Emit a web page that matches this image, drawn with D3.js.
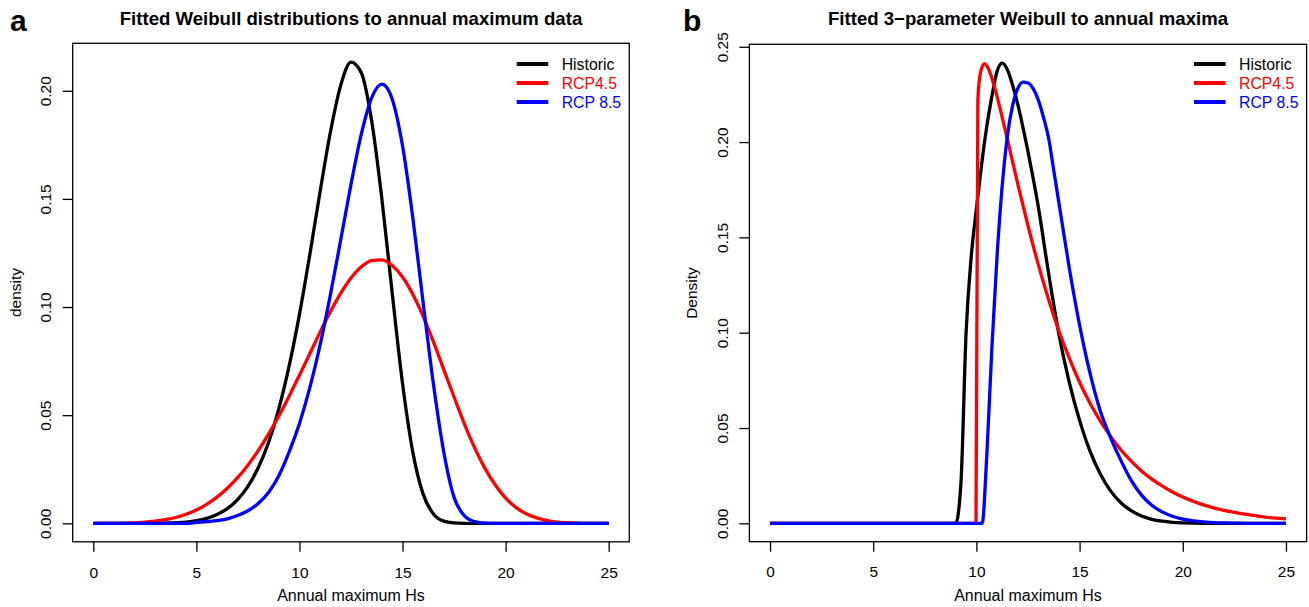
<!DOCTYPE html>
<html>
<head>
<meta charset="utf-8">
<script src="https://d3js.org/d3.v7.min.js"></script>
<style>
body { margin: 0; background: #fff; }
svg text { font-family: "Liberation Sans", Arial, Helvetica, sans-serif; }
</style>
</head>
<body>
<div id="vis"></div>
<script>
const FRAME_WIDTH = 1309;
const FRAME_HEIGHT = 607;

// legend / series labels
const seriesNames = ["Historic", "RCP4.5", "RCP 8.5"];
const seriesColors = ["#000000", "#ff0000", "#0000ff"];

// tick labels
const xTicks = [0, 5, 10, 15, 20, 25];
const leftYTicks = [0, 0.05, 0.10, 0.15, 0.20];
const rightYTicks = [0, 0.05, 0.10, 0.15, 0.20, 0.25];

// panel a: fitted Weibull densities
const leftX = [0, 0.5, 1, 1.5, 2, 2.5, 3, 3.5, 4, 4.5, 5, 5.5, 6, 6.5, 7, 7.5, 8, 8.5, 9, 9.5,
  10, 10.5, 11, 11.5, 12, 12.5, 13, 13.5, 14, 14.5, 15, 15.5, 16, 16.5, 17, 17.5, 18, 18.5, 19, 19.5,
  20, 20.5, 21, 21.5, 22, 22.5, 23, 23.5, 24, 24.5, 25];
const leftHistoric = [0, 0, 0, 0, 0, 0, 0, 0.0001, 0.0003, 0.0006, 0.0012, 0.0023, 0.0041, 0.0068, 0.0110, 0.0171, 0.0257, 0.0374, 0.0530, 0.0728,
  0.0966, 0.1241, 0.1533, 0.1808, 0.2025, 0.2132, 0.2083, 0.1862, 0.1498, 0.1063, 0.0647, 0.0328, 0.0135, 0.0043, 0.0010, 0.0002, 0, 0, 0, 0,
  0, 0, 0, 0, 0, 0, 0, 0, 0, 0, 0];
const leftRcp45 = [0, 0, 0, 0.0001, 0.0002, 0.0005, 0.0010, 0.0017, 0.0027, 0.0042, 0.0062, 0.0088, 0.0121, 0.0162, 0.0211, 0.0269, 0.0336, 0.0412, 0.0496, 0.0588,
  0.0685, 0.0784, 0.0884, 0.0978, 0.1063, 0.1134, 0.1186, 0.1215, 0.1218, 0.1192, 0.1139, 0.1059, 0.0957, 0.0839, 0.0711, 0.0584, 0.0460, 0.0349, 0.0254, 0.0177,
  0.0117, 0.0074, 0.0044, 0.0025, 0.0013, 0.0006, 0.0003, 0.0001, 0, 0, 0];
const leftRcp85 = [0, 0, 0, 0, 0, 0, 0, 0, 0, 0, 0.0004, 0.0008, 0.0012, 0.0021, 0.0036, 0.0058, 0.0092, 0.0143, 0.0220, 0.0330,
  0.0462, 0.0626, 0.0824, 0.1056, 0.1310, 0.1567, 0.1799, 0.1967, 0.2031, 0.1961, 0.1745, 0.1412, 0.1020, 0.0643, 0.0330, 0.0120, 0.0035, 0.0008, 0.0001, 0,
  0, 0, 0, 0, 0, 0, 0, 0, 0, 0, 0];

// panel b: fitted 3-parameter Weibull densities
const rightHistoricX = [0, 9, 9.25, 9.5, 9.75, 10, 10.25, 10.5, 10.75, 11, 11.25, 11.5, 11.75, 12, 12.25, 12.5, 12.75, 13, 13.5, 14,
  14.5, 15, 15.5, 16, 16.5, 17, 17.5, 18, 18.5, 19, 19.5, 20, 21, 25];
const rightHistoric = [0, 0, 0.021, 0.100, 0.140, 0.165, 0.188, 0.208, 0.224, 0.237, 0.2414, 0.238, 0.230, 0.220, 0.208, 0.195, 0.181, 0.166, 0.131, 0.099,
  0.074, 0.054, 0.038, 0.026, 0.017, 0.0108, 0.0066, 0.0038, 0.0021, 0.0011, 0.0005, 0.0002, 0, 0];
const rightRcp45X = [0, 9.98, 10.07, 10.2, 10.4, 10.6, 10.8, 11, 11.5, 12, 12.5, 13, 13.5, 14, 14.5, 15, 15.5, 16, 16.5, 17,
  17.5, 18, 18.5, 19, 19.5, 20, 20.5, 21, 21.5, 22, 22.5, 23, 23.5, 24, 24.5, 25];
const rightRcp45 = [0, 0, 0.222, 0.2366, 0.2411, 0.238, 0.2318, 0.2240, 0.2015, 0.1782, 0.1561, 0.1357, 0.1173, 0.1009, 0.0866, 0.0740, 0.0631, 0.0537, 0.0456, 0.0386,
  0.0326, 0.0275, 0.0232, 0.0196, 0.0164, 0.0138, 0.0116, 0.0097, 0.0081, 0.0068, 0.0057, 0.0048, 0.0040, 0.0033, 0.0027, 0.0023];
const rightRcp85X = [0, 10.28, 10.5, 10.75, 11, 11.25, 11.5, 11.75, 12, 12.25, 12.5, 12.75, 13, 13.25, 13.5, 13.75, 14, 14.5, 15, 15.5,
  16, 16.5, 17, 17.5, 18, 18.5, 19, 19.5, 20, 20.5, 21, 21.5, 22, 22.5, 23, 25];
const rightRcp85 = [0, 0, 0.035, 0.092, 0.140, 0.177, 0.203, 0.219, 0.228, 0.2315, 0.2310, 0.228, 0.222, 0.213, 0.202, 0.185, 0.168, 0.134, 0.104, 0.079,
  0.059, 0.045, 0.033, 0.0225, 0.0148, 0.0095, 0.0060, 0.0037, 0.0022, 0.0013, 0.0008, 0.0004, 0.0002, 0.0001, 0, 0];

const FRAME = d3.select("#vis")
    .append("svg")
    .attr("width", FRAME_WIDTH)
    .attr("height", FRAME_HEIGHT);

function zip(xs, ys) {
    return xs.map((x, i) => ({x: x, y: ys[i]}));
}

function drawPanel(p) {
    // R style: data range padded by 4% on each side
    const X_SCALE = d3.scaleLinear()
        .domain([-1, 26])
        .range([p.left, p.right]);
    const Y_SCALE = d3.scaleLinear()
        .domain(p.yDomain)
        .range([p.bottom, p.top]);

    const g = FRAME.append("g");

    // x axis
    const xAxis = g.append("g")
        .attr("transform", "translate(0," + p.bottom + ")")
        .call(d3.axisBottom(X_SCALE).tickValues(xTicks).tickSize(10).tickFormat(d3.format("d")));
    xAxis.select(".domain").remove();
    xAxis.selectAll("line").attr("stroke", "#000").attr("stroke-width", 1.3);
    xAxis.selectAll("text")
        .attr("y", 35.8)
        .attr("dy", null)
        .attr("fill", "#000")
        .style("font-size", "15.5px");

    // y axis, labels turned like R's default
    const yAxis = g.append("g")
        .attr("transform", "translate(" + p.left + ",0)")
        .call(d3.axisLeft(Y_SCALE).tickValues(p.yTicks).tickSize(10).tickFormat(d3.format(".2f")));
    yAxis.select(".domain").remove();
    yAxis.selectAll("line").attr("stroke", "#000").attr("stroke-width", 1.3);
    yAxis.selectAll("text")
        .attr("x", null)
        .attr("dy", null)
        .attr("text-anchor", "middle")
        .attr("transform", "translate(-21.5,0) rotate(-90)")
        .attr("fill", "#000")
        .style("font-size", "15.5px");

    // curves
    const line = d3.line()
        .x((d) => X_SCALE(d.x))
        .y((d) => Y_SCALE(d.y))
        .curve(d3.curveMonotoneX);

    p.series.forEach((s, i) => {
        g.append("path")
            .datum(s)
            .attr("d", line)
            .attr("fill", "none")
            .attr("stroke", seriesColors[i])
            .attr("stroke-width", 3.3)
            .attr("stroke-linejoin", "round");
    });

    // box
    g.append("rect")
        .attr("x", p.left)
        .attr("y", p.top)
        .attr("width", p.right - p.left)
        .attr("height", p.bottom - p.top)
        .attr("fill", "none")
        .attr("stroke", "#000")
        .attr("stroke-width", 1.3);

    // legend
    seriesNames.forEach((name, i) => {
        const cy = 64 + i * 19;
        g.append("line")
            .attr("x1", p.right - 112.6)
            .attr("x2", p.right - 81)
            .attr("y1", cy)
            .attr("y2", cy)
            .attr("stroke", seriesColors[i])
            .attr("stroke-width", 4);
        g.append("text")
            .attr("x", p.right - 67.6)
            .attr("y", cy + 5.5)
            .attr("fill", seriesColors[i])
            .style("font-size", "15.8px")
            .text(name);
    });

    // titles
    g.append("text")
        .attr("x", (p.left + p.right) / 2)
        .attr("y", 25)
        .attr("text-anchor", "middle")
        .style("font-size", "18.6px")
        .style("font-weight", "bold")
        .text(p.title);

    g.append("text")
        .attr("x", p.letterX)
        .attr("y", 31)
        .style("font-size", "30px")
        .style("font-weight", "bold")
        .text(p.letter);

    g.append("text")
        .attr("x", (p.left + p.right) / 2)
        .attr("y", 601)
        .attr("text-anchor", "middle")
        .style("font-size", "16px")
        .text("Annual maximum Hs");

    g.append("text")
        .attr("transform", "translate(" + (p.left - 52) + "," + ((p.top + p.bottom) / 2) + ") rotate(-90)")
        .attr("text-anchor", "middle")
        .style("font-size", "15.5px")
        .text(p.yLabel);
}

drawPanel({
    left: 72.7, right: 629.3, top: 43.3, bottom: 541.8,
    yDomain: [-0.00854, 0.22194],
    yTicks: leftYTicks,
    title: "Fitted Weibull distributions to annual maximum data",
    letter: "a", letterX: 10,
    yLabel: "density",
    series: [zip(leftX, leftHistoric), zip(leftX, leftRcp45), zip(leftX, leftRcp85)]
});

drawPanel({
    left: 749.4, right: 1306.6, top: 44.3, bottom: 541.7,
    yDomain: [-0.00965, 0.2513],
    yTicks: rightYTicks,
    title: "Fitted 3\u2212parameter Weibull to annual maxima",
    letter: "b", letterX: 683,
    yLabel: "Density",
    series: [zip(rightHistoricX, rightHistoric), zip(rightRcp45X, rightRcp45), zip(rightRcp85X, rightRcp85)]
});
</script>
</body>
</html>
